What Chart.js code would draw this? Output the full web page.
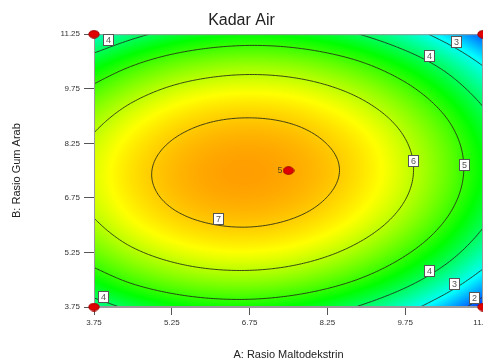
<!DOCTYPE html>
<html>
<head>
<meta charset="utf-8">
<script src="https://cdn.jsdelivr.net/npm/chart.js@4.4.0/dist/chart.umd.min.js"></script>
<style>
	html, body { margin: 0; padding: 0; background: #fff; overflow: hidden; }
	#wrap { position: relative; width: 500px; height: 363px; }
</style>
</head>
<body>
<div id="wrap"><canvas id="grafico"></canvas></div>
<script>
// Datos (superficie de respuesta "Kadar Air")
const ejeA = [3.75, 4.5, 5.25, 6.0, 6.75, 7.5, 8.25, 9.0, 9.75, 10.5, 11.25];
const ejeB = [3.75, 4.5, 5.25, 6.0, 6.75, 7.5, 8.25, 9.0, 9.75, 10.5, 11.25];
// una fila por cada valor de B (de abajo hacia arriba), una columna por cada valor de A
const kadarAir = [
	[3.67, 4.16, 4.50, 4.68, 4.71, 4.58, 4.30, 3.86, 3.27, 2.52, 1.61],
	[4.64, 5.14, 5.48, 5.67, 5.71, 5.59, 5.31, 4.88, 4.29, 3.55, 2.65],
	[5.38, 5.89, 6.24, 6.44, 6.48, 6.37, 6.10, 5.67, 5.09, 4.36, 3.47],
	[5.90, 6.42, 6.78, 6.98, 7.03, 6.92, 6.66, 6.24, 5.67, 4.94, 4.05],
	[6.20, 6.72, 7.09, 7.30, 7.35, 7.25, 6.99, 6.58, 6.02, 5.30, 4.42],
	[6.27, 6.80, 7.17, 7.39, 7.45, 7.35, 7.11, 6.70, 6.14, 5.43, 4.56],
	[6.12, 6.65, 7.03, 7.25, 7.32, 7.24, 6.99, 6.60, 6.04, 5.34, 4.47],
	[5.74, 6.28, 6.67, 6.90, 6.97, 6.89, 6.65, 6.26, 5.72, 5.02, 4.16],
	[5.13, 5.68, 6.08, 6.31, 6.39, 6.32, 6.09, 5.71, 5.17, 4.47, 3.62],
	[4.31, 4.86, 5.26, 5.50, 5.59, 5.52, 5.30, 4.93, 4.39, 3.71, 2.86],
	[3.25, 3.81, 4.22, 4.47, 4.57, 4.51, 4.29, 3.92, 3.39, 2.71, 1.88],
];
const nivelesKontur = [2, 3, 4, 5, 6, 7];
const ticksEje = [3.75, 5.25, 6.75, 8.25, 9.75, 11.25];

// puntos del diseño
const titikA = [3.75, 3.75, 11.25, 11.25, 7.5];
const titikB = [3.75, 11.25, 11.25, 3.75, 7.5];
const titikLabel = ['', '', '', '', '5'];

// etiquetas de las curvas de nivel
const labelA = [4.02, 10.73, 10.21, 9.90, 10.88, 6.15, 10.21, 10.69, 11.08, 3.92];
const labelB = [11.09, 11.03, 10.65, 7.76, 7.65, 6.17, 4.74, 4.38, 4.00, 4.02];
const labelTeks = ['4', '3', '4', '6', '5', '7', '4', '3', '2', '4'];

// Escala de colores (azul -> cian -> verde -> amarillo -> rojo)
const paradas = [
	[1.6, [0, 40, 255]],
	[2.9, [0, 255, 255]],
	[4.6, [0, 255, 0]],
	[6.5, [255, 255, 0]],
	[9.0, [255, 0, 0]],
];

function colorDe(v) {
	if (v <= paradas[0][0]) return paradas[0][1];
	for (let k = 1; k < paradas.length; k++) {
		if (v <= paradas[k][0]) {
			const t = (v - paradas[k - 1][0]) / (paradas[k][0] - paradas[k - 1][0]);
			const c0 = paradas[k - 1][1], c1 = paradas[k][1];
			return [c0[0] + (c1[0] - c0[0]) * t, c0[1] + (c1[1] - c0[1]) * t, c0[2] + (c1[2] - c0[2]) * t];
		}
	}
	return paradas[paradas.length - 1][1];
}

// valor de la malla con extrapolación lineal en los bordes
function nodo(i, j) {
	const n = ejeA.length, m = ejeB.length;
	if (i < 0) return 2 * nodo(0, j) - nodo(1, j);
	if (i > n - 1) return 2 * nodo(n - 1, j) - nodo(n - 2, j);
	if (j < 0) return 2 * nodo(i, 0) - nodo(i, 1);
	if (j > m - 1) return 2 * nodo(i, m - 1) - nodo(i, m - 2);
	return kadarAir[j][i];
}

function cr(p0, p1, p2, p3, t) {
	return p1 + 0.5 * t * (p2 - p0 + t * (2 * p0 - 5 * p1 + 4 * p2 - p3 + t * (3 * (p1 - p2) + p3 - p0)));
}

function valorEn(a, b) {
	const fx = (a - ejeA[0]) / (ejeA[1] - ejeA[0]);
	const fy = (b - ejeB[0]) / (ejeB[1] - ejeB[0]);
	const i = Math.min(Math.max(Math.floor(fx), 0), ejeA.length - 2);
	const j = Math.min(Math.max(Math.floor(fy), 0), ejeB.length - 2);
	const tx = fx - i, ty = fy - j;
	const filas = [];
	for (let dj = -1; dj <= 2; dj++) {
		filas.push(cr(nodo(i - 1, j + dj), nodo(i, j + dj), nodo(i + 1, j + dj), nodo(i + 2, j + dj), tx));
	}
	return cr(filas[0], filas[1], filas[2], filas[3], ty);
}

// Superficie coloreada y curvas de nivel
const pluginSuperficie = {
	id: 'superficie',
	beforeDatasetsDraw(chart) {
		const ctx = chart.ctx;
		const ca = chart.chartArea;
		const x = chart.scales.x, y = chart.scales.y;
		const w = Math.round(ca.right - ca.left), h = Math.round(ca.bottom - ca.top);
		const img = ctx.createImageData(w, h);
		for (let py = 0; py < h; py++) {
			const b = y.getValueForPixel(ca.top + py + 0.5);
			for (let px = 0; px < w; px++) {
				const a = x.getValueForPixel(ca.left + px + 0.5);
				const c = colorDe(valorEn(a, b));
				const k = (py * w + px) * 4;
				img.data[k] = c[0];
				img.data[k + 1] = c[1];
				img.data[k + 2] = c[2];
				img.data[k + 3] = 255;
			}
		}
		ctx.putImageData(img, Math.round(ca.left), Math.round(ca.top));

		// curvas de nivel (marching squares)
		const paso = 0.05;
		const nA = Math.round((x.max - x.min) / paso) + 1;
		const nB = Math.round((y.max - y.min) / paso) + 1;
		const v = [];
		for (let jj = 0; jj < nB; jj++) {
			const fila = [];
			for (let ii = 0; ii < nA; ii++) fila.push(valorEn(x.min + ii * paso, y.min + jj * paso));
			v.push(fila);
		}
		ctx.save();
		ctx.beginPath();
		ctx.rect(ca.left, ca.top, ca.right - ca.left, ca.bottom - ca.top);
		ctx.clip();
		ctx.strokeStyle = 'rgba(35,40,25,0.85)';
		ctx.lineWidth = 1;
		ctx.beginPath();
		for (const L of nivelesKontur) {
			for (let jj = 0; jj < nB - 1; jj++) {
				for (let ii = 0; ii < nA - 1; ii++) {
					const a0 = x.min + ii * paso, a1 = a0 + paso;
					const b0 = y.min + jj * paso, b1 = b0 + paso;
					const esq = [
						[a0, b0, v[jj][ii]],
						[a1, b0, v[jj][ii + 1]],
						[a1, b1, v[jj + 1][ii + 1]],
						[a0, b1, v[jj + 1][ii]],
					];
					const pts = [];
					for (let e = 0; e < 4; e++) {
						const p = esq[e], q = esq[(e + 1) % 4];
						if ((p[2] < L) !== (q[2] < L)) {
							const t = (L - p[2]) / (q[2] - p[2]);
							pts.push([p[0] + (q[0] - p[0]) * t, p[1] + (q[1] - p[1]) * t]);
						}
					}
					for (let s = 0; s + 1 < pts.length; s += 2) {
						ctx.moveTo(x.getPixelForValue(pts[s][0]), y.getPixelForValue(pts[s][1]));
						ctx.lineTo(x.getPixelForValue(pts[s + 1][0]), y.getPixelForValue(pts[s + 1][1]));
					}
				}
			}
		}
		ctx.stroke();
		ctx.restore();

		// borde del área
		ctx.save();
		ctx.strokeStyle = '#9a9a9a';
		ctx.lineWidth = 1;
		ctx.strokeRect(ca.left + 0.5, ca.top + 0.5, ca.right - ca.left - 1, ca.bottom - ca.top - 1);
		ctx.restore();
	},
	afterDatasetsDraw(chart) {
		const ctx = chart.ctx;
		const x = chart.scales.x, y = chart.scales.y;
		ctx.save();
		ctx.font = '9px "Liberation Sans", Arial, sans-serif';
		ctx.textAlign = 'center';
		ctx.textBaseline = 'middle';
		labelTeks.forEach(function (t, k) {
			const px = Math.round(x.getPixelForValue(labelA[k]));
			const py = Math.round(y.getPixelForValue(labelB[k]));
			ctx.fillStyle = '#ffffff';
			ctx.fillRect(px - 5, py - 6, 11, 12);
			ctx.strokeStyle = '#555';
			ctx.strokeRect(px - 5 + 0.5, py - 6 + 0.5, 10, 11);
			ctx.fillStyle = '#555';
			ctx.fillText(t, px + 0.5, py + 0.5);
		});
		// etiqueta de réplicas del punto central
		ctx.textAlign = 'right';
		ctx.fillStyle = '#5a4a20';
		titikLabel.forEach(function (t, k) {
			if (!t) return;
			ctx.fillText(t, x.getPixelForValue(titikA[k]) - 6, y.getPixelForValue(titikB[k]));
		});
		ctx.restore();
	},
};

// punto rojo elíptico
const puntoRojo = document.createElement('canvas');
puntoRojo.width = 12;
puntoRojo.height = 9;
(function () {
	const c = puntoRojo.getContext('2d');
	c.fillStyle = '#e00000';
	c.strokeStyle = '#a00000';
	c.beginPath();
	c.ellipse(6, 4.5, 5.2, 3.8, 0, 0, Math.PI * 2);
	c.fill();
	c.stroke();
})();

const fuente = '"Liberation Sans", Arial, sans-serif';

var ctx = document.getElementById('grafico').getContext('2d');
var graficoKadarAir = new Chart(ctx, {
	type: 'scatter',
	data: {
		datasets: [
			{
				label: 'Titik desain',
				data: titikA.map((a, k) => ({ x: a, y: titikB[k] })),
				pointStyle: puntoRojo,
				clip: false,
			},
		],
	},
	options: {
		responsive: true,
		maintainAspectRatio: false,
		animation: false,
		layout: { padding: { left: 0, right: 17, top: 0, bottom: 0 } },
		plugins: {
			legend: { display: false },
			tooltip: { enabled: false },
			title: {
				display: true,
				text: 'Kadar Air',
				color: '#222',
				font: { family: fuente, size: 16, weight: 'normal' },
				padding: { top: 11, bottom: 4 },
			},
		},
		scales: {
			x: {
				type: 'linear',
				min: 3.75,
				max: 11.25,
				afterBuildTicks: (s) => { s.ticks = ticksEje.map((v) => ({ value: v })); },
				afterFit: (s) => { s.height = 56; },
				ticks: {
					callback: (v) => Number(v).toFixed(2),
					color: '#333',
					font: { family: fuente, size: 8 },
					padding: 3,
					maxRotation: 0,
					autoSkip: false,
				},
				grid: { display: true, drawOnChartArea: false, drawTicks: true, tickLength: 8, color: '#555' },
				border: { display: true, color: '#9a9a9a' },
				title: {
					display: true,
					text: 'A: Rasio Maltodekstrin',
					color: '#222',
					font: { family: fuente, size: 11 },
					padding: { top: 0, bottom: 1 },
				},
			},
			y: {
				type: 'linear',
				min: 3.75,
				max: 11.25,
				afterBuildTicks: (s) => { s.ticks = ticksEje.map((v) => ({ value: v })); },
				afterFit: (s) => { s.width = 94; },
				ticks: {
					callback: (v) => Number(v).toFixed(2),
					color: '#333',
					font: { family: fuente, size: 8 },
					padding: 4,
					autoSkip: false,
				},
				grid: { display: true, drawOnChartArea: false, drawTicks: true, tickLength: 10, color: '#555' },
				border: { display: true, color: '#9a9a9a' },
				title: {
					display: true,
					text: 'B: Rasio Gum Arab',
					color: '#222',
					font: { family: fuente, size: 11 },
					padding: { top: 10, bottom: 0 },
				},
			},
		},
	},
	plugins: [pluginSuperficie],
});
</script>
</body>
</html>
